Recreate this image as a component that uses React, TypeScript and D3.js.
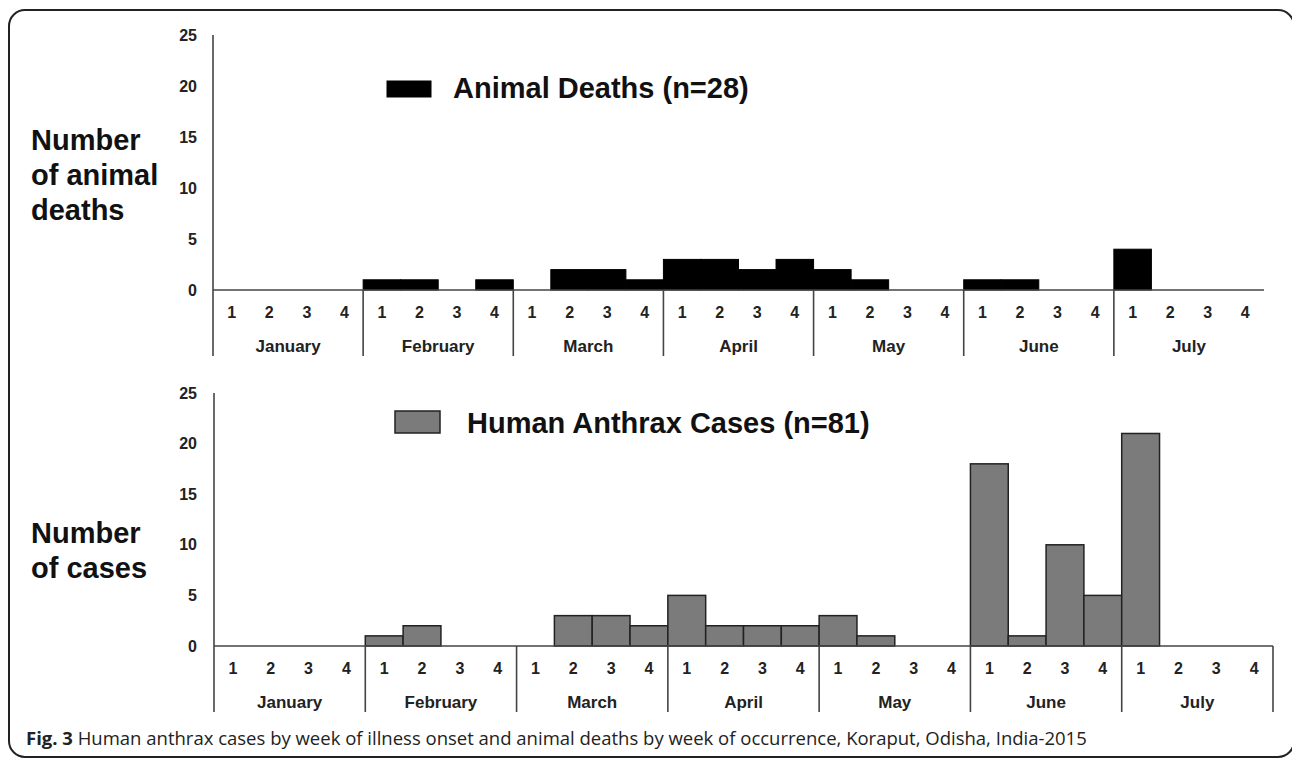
import React from 'react';
import * as d3 from 'd3';

// Weeks 1-4 for each month, Jan-Jul 2015
const MONTHS = ['January', 'February', 'March', 'April', 'May', 'June', 'July'];
const WEEKS = [1, 2, 3, 4];
const Y_TICKS = [0, 5, 10, 15, 20, 25];

// Animal deaths by week (n=28)
const ANIMAL_DEATHS = [
  0, 0, 0, 0,
  1, 1, 0, 1,
  0, 2, 2, 1,
  3, 3, 2, 3,
  2, 1, 0, 0,
  1, 1, 0, 0,
  4, 0, 0, 0,
];

// Human anthrax cases by week (n=81)
const HUMAN_CASES = [
  0, 0, 0, 0,
  1, 2, 0, 0,
  0, 3, 3, 2,
  5, 2, 2, 2,
  3, 1, 0, 0,
  18, 1, 10, 5,
  21, 0, 0, 0,
];

const FONT = '"Liberation Sans", Arial, sans-serif';
const AXIS = '#444';

const weekKeys = MONTHS.flatMap((m) => WEEKS.map((w) => `${m}-${w}`));

type PanelProps = {
  values: number[];
  x0: number; x1: number; yTop: number; yBase: number;
  fill: string; stroke: string; strokeW: number;
  closeRight: boolean;
  legend: string; legendX: number; legendY: number; legendW: number; legendH: number;
  legendGap: number; legendBase: number;
  titleLines: string[]; titleY: number;
};

function Panel(p: PanelProps) {
  const x = d3.scaleBand<string>().domain(weekKeys).range([p.x0, p.x1]).padding(0);
  const y = d3.scaleLinear().domain([0, 25]).range([p.yBase, p.yTop]);
  const bw = x.bandwidth();
  const sepBottom = p.yBase + 66;

  return (
    <g fontFamily={FONT} fontWeight="bold" fill="#222">
      {/* y title */}
      {p.titleLines.map((t, i) => (
        <text key={t} x={31} y={p.titleY + i * 35} fontSize={29} fill="#111">{t}</text>
      ))}

      {/* y tick labels */}
      {Y_TICKS.map((v) => (
        <text key={v} x={197} y={y(v)} fontSize={16} textAnchor="end" dominantBaseline="central">{v}</text>
      ))}

      {/* bars */}
      {p.values.map((v, i) => v > 0 && (
        <rect key={i} x={x(weekKeys[i])!} y={y(v)} width={bw} height={y(0) - y(v)}
          fill={p.fill} stroke={p.stroke} strokeWidth={p.strokeW} />
      ))}

      {/* axes */}
      <line x1={p.x0} x2={p.x0} y1={p.yTop} y2={sepBottom} stroke={AXIS} strokeWidth={1.6} />
      <line x1={p.x0} x2={p.x1} y1={p.yBase} y2={p.yBase} stroke={AXIS} strokeWidth={1.6} />
      {MONTHS.slice(1).map((m) => (
        <line key={m} x1={x(`${m}-1`)!} x2={x(`${m}-1`)!} y1={p.yBase} y2={sepBottom} stroke={AXIS} strokeWidth={1.6} />
      ))}
      {p.closeRight && (
        <line x1={p.x1} x2={p.x1} y1={p.yBase} y2={sepBottom} stroke={AXIS} strokeWidth={1.6} />
      )}

      {/* week labels */}
      {weekKeys.map((k) => (
        <text key={k} x={x(k)! + bw / 2} y={p.yBase + 22} fontSize={16} textAnchor="middle" dominantBaseline="central">
          {k.split('-')[1]}
        </text>
      ))}
      {/* month labels */}
      {MONTHS.map((m) => (
        <text key={m} x={x(`${m}-1`)! + bw * 2} y={p.yBase + 56} fontSize={17} textAnchor="middle" dominantBaseline="central">
          {m}
        </text>
      ))}

      {/* legend */}
      <rect x={p.legendX} y={p.legendY} width={p.legendW} height={p.legendH} fill={p.fill} stroke={p.stroke} strokeWidth={p.strokeW} />
      <text x={p.legendX + p.legendW + p.legendGap} y={p.legendBase} fontSize={29} fill="#111">
        {p.legend}
      </text>
    </g>
  );
}

export default function App() {
  return (
    <svg width={1292} height={759} style={{ position: 'absolute', left: 0, top: 0, background: '#fff' }}>
      <rect x={9} y={10} width={1285} height={747} rx={16} fill="#fff" stroke="#222" strokeWidth={2} />

      <Panel values={ANIMAL_DEATHS} x0={213} x1={1264} yTop={35} yBase={290}
        fill="#000" stroke="#000"
        strokeW={1} closeRight={false}
        legend="Animal Deaths (n=28)" legendX={387} legendY={81} legendW={44} legendH={16}
        legendGap={22} legendBase={98}
        titleLines={['Number', 'of animal', 'deaths']} titleY={150} />

      <Panel values={HUMAN_CASES} x0={214} x1={1273} yTop={393} yBase={646}
        fill="#7b7b7b" stroke="#222" strokeW={1.5} closeRight={true}
        legend="Human Anthrax Cases (n=81)" legendX={395} legendY={411} legendW={45} legendH={22}
        legendGap={27} legendBase={433}
        titleLines={['Number', 'of cases']} titleY={543} />

      <text x={26} y={745} fontSize={18.5} fontFamily='"Open Sans", "Noto Sans", sans-serif' fill="#222">
        <tspan fontWeight="bold">Fig. 3</tspan>
        <tspan> Human anthrax cases by week of illness onset and animal deaths by week of occurrence, Koraput, Odisha, India-2015</tspan>
      </text>
    </svg>
  );
}
